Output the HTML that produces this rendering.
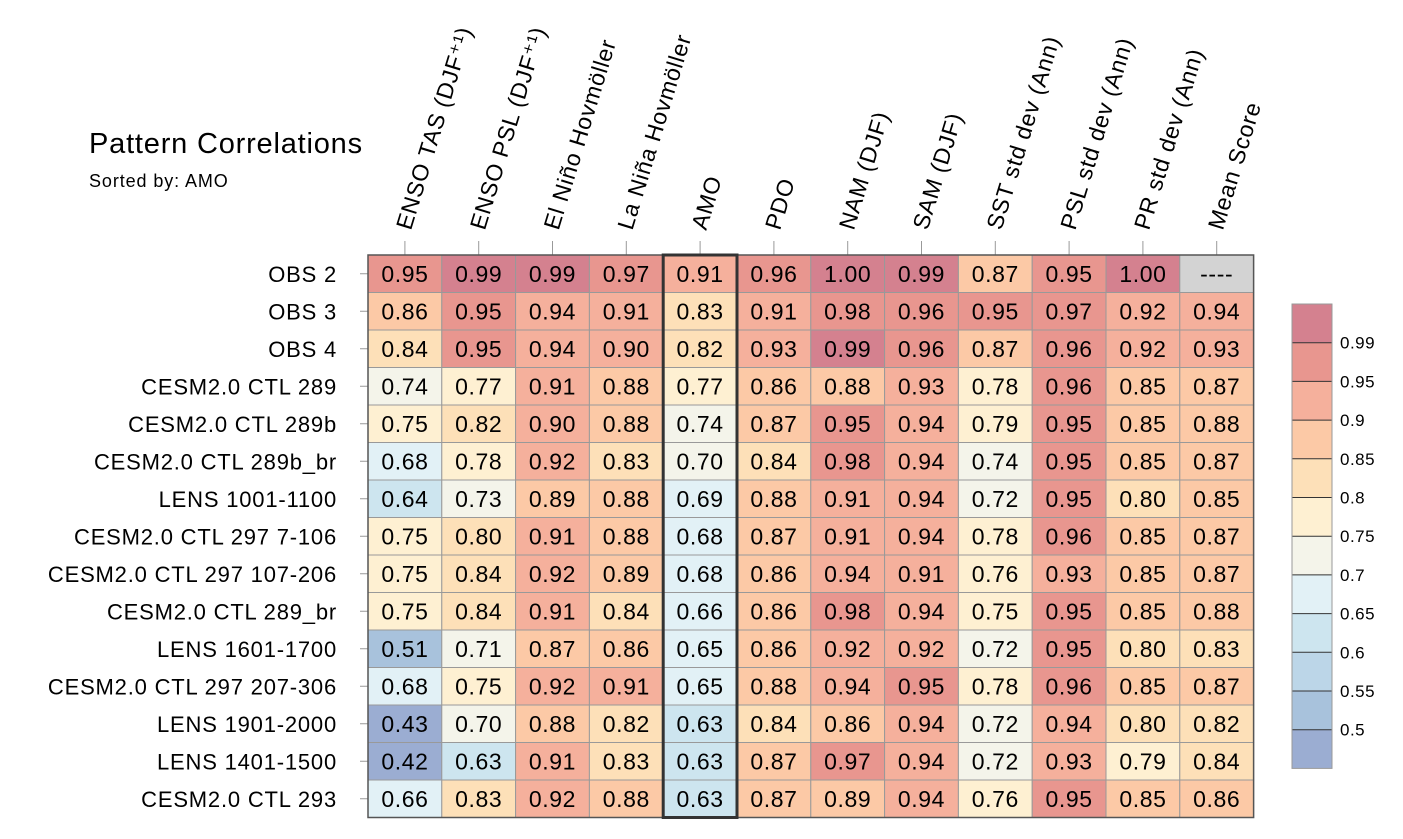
<!DOCTYPE html>
<html><head><meta charset="utf-8"><style>
body{margin:0;background:#fff;}
svg{display:block;font-family:"Liberation Sans",sans-serif;}
</style></head><body>
<svg id="chart" width="1403" height="839" viewBox="0 0 1403 839">
<text x="89" y="153" font-size="29" letter-spacing="0.8">Pattern Correlations</text>
<text x="89" y="187" font-size="18" letter-spacing="0.9">Sorted by: AMO</text>
<g id="cells"></g>
</svg>
<script>
const columns = ["ENSO TAS (DJF\u207A\u00B9)","ENSO PSL (DJF\u207A\u00B9)","El Niño Hovmöller","La Niña Hovmöller","AMO","PDO","NAM (DJF)","SAM (DJF)","SST std dev (Ann)","PSL std dev (Ann)","PR std dev (Ann)","Mean Score"];
const rows = ["OBS 2","OBS 3","OBS 4","CESM2.0 CTL 289","CESM2.0 CTL 289b","CESM2.0 CTL 289b_br","LENS 1001-1100","CESM2.0 CTL 297 7-106","CESM2.0 CTL 297 107-206","CESM2.0 CTL 289_br","LENS 1601-1700","CESM2.0 CTL 297 207-306","LENS 1901-2000","LENS 1401-1500","CESM2.0 CTL 293"];
const r0 = [0.95,0.99,0.99,0.97,0.91,0.96,1.00,0.99,0.87,0.95,1.00,null];
const r1 = [0.86,0.95,0.94,0.91,0.83,0.91,0.98,0.96,0.95,0.97,0.92,0.94];
const r2 = [0.84,0.95,0.94,0.90,0.82,0.93,0.99,0.96,0.87,0.96,0.92,0.93];
const r3 = [0.74,0.77,0.91,0.88,0.77,0.86,0.88,0.93,0.78,0.96,0.85,0.87];
const r4 = [0.75,0.82,0.90,0.88,0.74,0.87,0.95,0.94,0.79,0.95,0.85,0.88];
const r5 = [0.68,0.78,0.92,0.83,0.70,0.84,0.98,0.94,0.74,0.95,0.85,0.87];
const r6 = [0.64,0.73,0.89,0.88,0.69,0.88,0.91,0.94,0.72,0.95,0.80,0.85];
const r7 = [0.75,0.80,0.91,0.88,0.68,0.87,0.91,0.94,0.78,0.96,0.85,0.87];
const r8 = [0.75,0.84,0.92,0.89,0.68,0.86,0.94,0.91,0.76,0.93,0.85,0.87];
const r9 = [0.75,0.84,0.91,0.84,0.66,0.86,0.98,0.94,0.75,0.95,0.85,0.88];
const r10 = [0.51,0.71,0.87,0.86,0.65,0.86,0.92,0.92,0.72,0.95,0.80,0.83];
const r11 = [0.68,0.75,0.92,0.91,0.65,0.88,0.94,0.95,0.78,0.96,0.85,0.87];
const r12 = [0.43,0.70,0.88,0.82,0.63,0.84,0.86,0.94,0.72,0.94,0.80,0.82];
const r13 = [0.42,0.63,0.91,0.83,0.63,0.87,0.97,0.94,0.72,0.93,0.79,0.84];
const r14 = [0.66,0.83,0.92,0.88,0.63,0.87,0.89,0.94,0.76,0.95,0.85,0.86];
const values = [r0,r1,r2,r3,r4,r5,r6,r7,r8,r9,r10,r11,r12,r13,r14];
const levels = [0.5,0.55,0.6,0.65,0.7,0.75,0.8,0.85,0.9,0.95,0.99];
const levelLabels = ["0.5","0.55","0.6","0.65","0.7","0.75","0.8","0.85","0.9","0.95","0.99"];
const palette = ["#9badd2","#a8c2dc","#bcd6e8","#cde5ef","#e2f1f6","#f4f4ea","#fef0d2","#fde0b8","#fcc9a6","#f5b09c","#e8968f","#d4818f"];
const sortedCol = 4;

const NS="http://www.w3.org/2000/svg";
const svg=document.getElementById('chart');
const X0=368,Y0=255,CW=73.8,RH=37.5;
const xS=i=>X0+i*CW, yS=j=>Y0+j*RH;
function mk(t,a,p){const e=document.createElementNS(NS,t);for(const k in a)e.setAttribute(k,a[k]);(p||svg).appendChild(e);return e;}
function colorFor(v){let b=0;for(let i=0;i<levels.length;i++){if(v>=levels[i]-1e-9)b=i+1;}return palette[b];}

rows.forEach((rn,j)=>{
  const t=mk('text',{x:337,y:yS(j)+RH/2+8,'font-size':22,'letter-spacing':0.8,'text-anchor':'end'});
  
  
  t.textContent=rn;
  const tk=mk('line',{x1:360,x2:X0,y1:yS(j)+RH/2,y2:yS(j)+RH/2,stroke:'#999','stroke-width':1});
  
  
  values[j].forEach((v,i)=>{
    const r=mk('rect',{x:xS(i),y:yS(j),width:CW,height:RH,fill:v===null?'#d3d3d3':colorFor(v),stroke:'#999','stroke-width':1});
    
    
    const tx=mk('text',{x:xS(i)+CW/2,y:yS(j)+RH/2+8,'font-size':23,'letter-spacing':0.6,'text-anchor':'middle'});
    
    
    tx.textContent=v===null?'----':v.toFixed(2);
  });
});
columns.forEach((c,i)=>{
  const cx=xS(i)+CW/2;
  const tk=mk('line',{x1:cx,x2:cx,y1:241,y2:Y0,stroke:'#999','stroke-width':1});
  
  
  const t=mk('text',{x:0,y:0,'font-size':23,'letter-spacing':0.8,transform:`translate(${cx+6},231) rotate(-73)`});
  
  
  t.textContent=c;
});
const outline=mk('rect',{x:X0,y:Y0,width:CW*columns.length,height:RH*rows.length,fill:'none',stroke:'#555','stroke-width':1.5});


const hl=mk('rect',{x:xS(sortedCol),y:Y0,width:CW,height:RH*rows.length,fill:'none',stroke:'#333','stroke-width':3});



// colorbar
const CBX=1292,CBY=304,CBW=40,BH=38.7;
palette.forEach((col,k)=>{
  const yy=CBY+(palette.length-1-k)*BH;
  const r=mk('rect',{x:CBX,y:yy,width:CBW,height:BH,fill:col,stroke:'none'});
  
  
});
levels.forEach((l,k)=>{
  const yy=CBY+(palette.length-1-k)*BH;
  const ln=mk('line',{x1:CBX,x2:CBX+CBW,y1:yy,y2:yy,stroke:'#333','stroke-width':1});
  
  
  const t=mk('text',{x:1340,y:yy+6,'font-size':17,'letter-spacing':0.5});
  
  
  t.textContent=levelLabels[k];
});
const cbo=mk('rect',{x:CBX,y:CBY,width:CBW,height:BH*palette.length,fill:'none',stroke:'#999','stroke-width':1});


</script>
</body></html>
